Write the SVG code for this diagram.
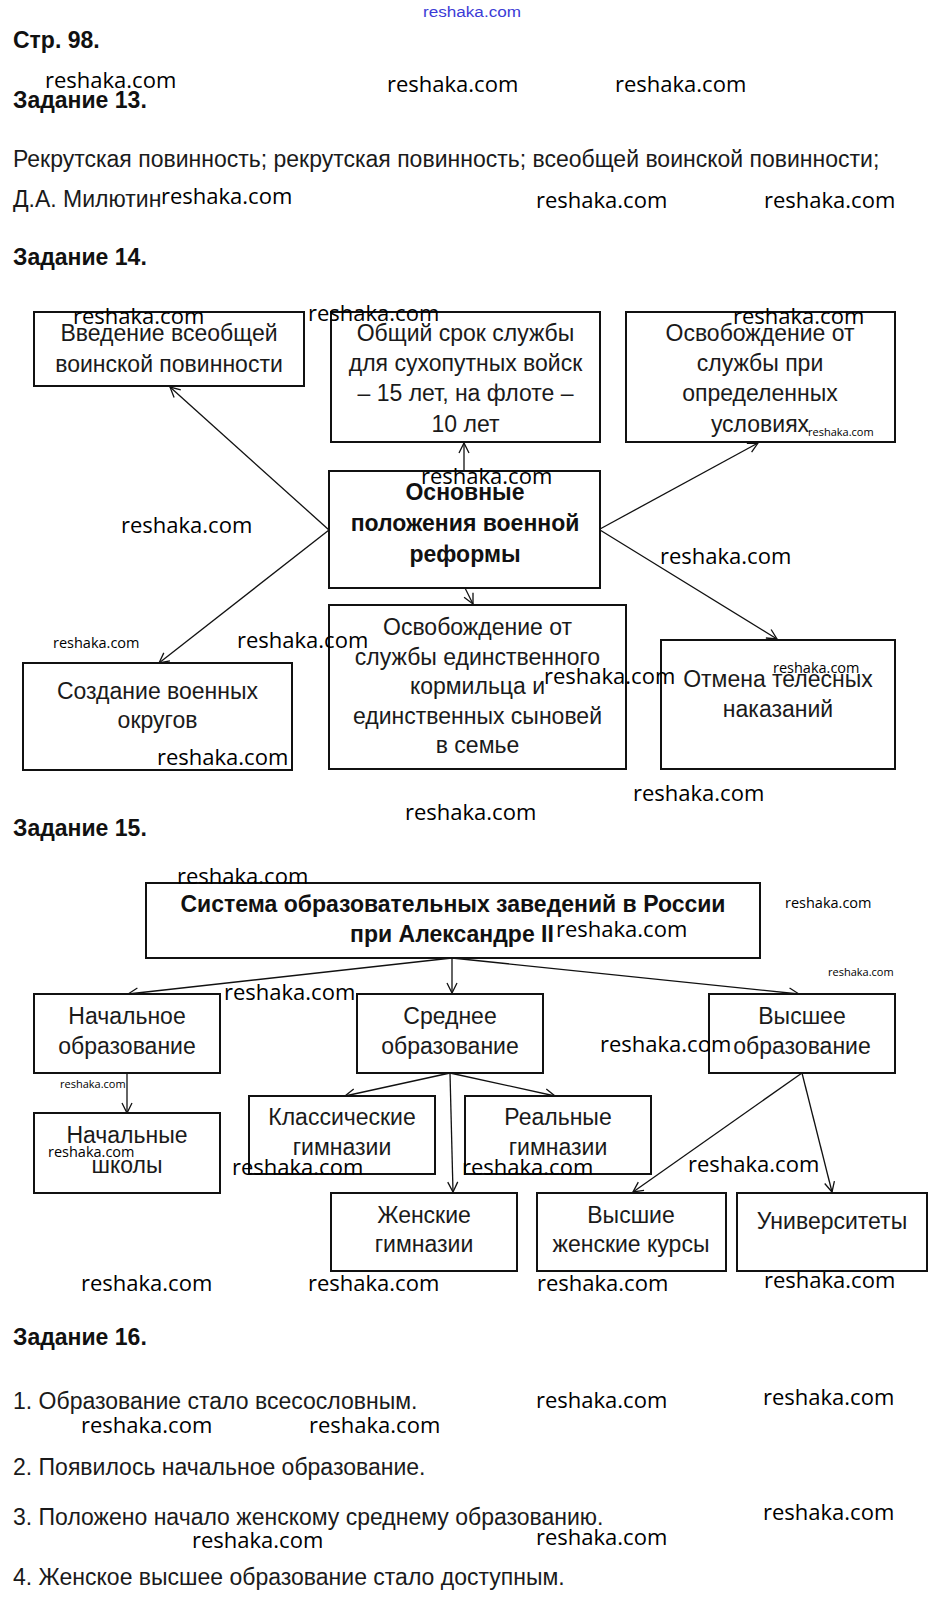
<svg xmlns="http://www.w3.org/2000/svg" width="941" height="1601" viewBox="0 0 941 1601">
<style>
.t{font-family:"Liberation Sans",Arial,sans-serif;font-size:23px;fill:#1a1a1a}
.h{font-family:"Liberation Sans",Arial,sans-serif;font-size:23px;font-weight:bold;fill:#111}
.c{text-anchor:middle}
.b{fill:#fff;stroke:#111;stroke-width:2}
.w{font-family:"Open Sans","DejaVu Sans",sans-serif;font-size:22px;fill:#000}
.ws{font-family:"Open Sans","DejaVu Sans",sans-serif;font-size:14.5px;fill:#000}
.wt{font-family:"Open Sans","DejaVu Sans",sans-serif;font-size:11px;fill:#000}
.ln{stroke:#111;stroke-width:1.3;fill:none;marker-end:url(#ah)}
</style>
<defs>
<marker id="ah" markerUnits="userSpaceOnUse" markerWidth="14" markerHeight="14" refX="11" refY="6" orient="auto" viewBox="0 0 14 12">
<path d="M1,1 L11,6 L1,11" fill="none" stroke="#111" stroke-width="1.3"/>
</marker>
</defs>
<rect width="941" height="1601" fill="#fff"/>

<text x="472" y="17" class="c" style="font-family:'Liberation Sans',Arial,sans-serif;font-size:14px;fill:#3b3bd6" textLength="98" lengthAdjust="spacingAndGlyphs">reshaka.com</text>
<text x="13" y="48" class="h">Стр. 98.</text>
<text x="13" y="108" class="h">Задание 13.</text>
<text x="13" y="167" class="t">Рекрутская повинность; рекрутская повинность; всеобщей воинской повинности;</text>
<text x="13" y="207" class="t">Д.А. Милютин</text>
<text x="13" y="265" class="h">Задание 14.</text>

<g id="connectors14">
<line class="ln" x1="329" y1="530" x2="170" y2="387"/>
<line class="ln" x1="464" y1="471" x2="464" y2="443"/>
<line class="ln" x1="600" y1="529" x2="758" y2="443"/>
<line class="ln" x1="600" y1="530" x2="777" y2="639"/>
<line class="ln" x1="329" y1="530" x2="159" y2="663"/>
<line class="ln" x1="465" y1="588" x2="473" y2="604"/>
</g>

<g id="n14a"><rect class="b" x="34" y="312" width="270" height="74"/>
<text class="t c" x="169" y="341">Введение всеобщей</text><text class="t c" x="169" y="372">воинской повинности</text></g>
<g id="n14b"><rect class="b" x="331" y="312" width="269" height="130"/>
<text class="t c" x="465.5" y="341">Общий срок службы</text><text class="t c" x="465.5" y="371">для сухопутных войск</text><text class="t c" x="465.5" y="401">– 15 лет, на флоте –</text><text class="t c" x="465.5" y="432">10 лет</text></g>
<g id="n14c"><rect class="b" x="626" y="312" width="269" height="130"/>
<text class="t c" x="760" y="341">Освобождение от</text><text class="t c" x="760" y="371">службы при</text><text class="t c" x="760" y="401">определенных</text><text class="t c" x="760" y="432">условиях</text></g>
<g id="n14d"><rect class="b" x="329" y="471" width="271" height="117"/>
<text class="h c" x="465" y="500">Основные</text><text class="h c" x="465" y="531">положения военной</text><text class="h c" x="465" y="562">реформы</text></g>
<g id="n14e"><rect class="b" x="23" y="663" width="269" height="107"/>
<text class="t c" x="157.5" y="699">Создание военных</text><text class="t c" x="157.5" y="728">округов</text></g>
<g id="n14f"><rect class="b" x="329" y="605" width="297" height="164"/>
<text class="t c" x="477.5" y="635">Освобождение от</text><text class="t c" x="477.5" y="664.5">службы единственного</text><text class="t c" x="477.5" y="694">кормильца и</text><text class="t c" x="477.5" y="723.5">единственных сыновей</text><text class="t c" x="477.5" y="753">в семье</text></g>
<g id="n14g"><rect class="b" x="661" y="640" width="234" height="129"/>
<text class="t c" x="778" y="687">Отмена телесных</text><text class="t c" x="778" y="717">наказаний</text></g>

<text x="13" y="836" class="h">Задание 15.</text>

<g id="connectors15">
<line class="ln" x1="452" y1="958" x2="128" y2="994"/>
<line class="ln" x1="452" y1="958" x2="452" y2="993"/>
<line class="ln" x1="452" y1="958" x2="799" y2="994"/>
<line class="ln" x1="127" y1="1073" x2="127" y2="1113"/>
<line class="ln" x1="450" y1="1073" x2="345" y2="1096"/>
<line class="ln" x1="450" y1="1073" x2="555" y2="1096"/>
<line class="ln" x1="450" y1="1073" x2="453" y2="1192"/>
<line class="ln" x1="802" y1="1073" x2="633" y2="1192"/>
<line class="ln" x1="802" y1="1073" x2="832" y2="1192"/>
</g>

<g id="n15title"><rect class="b" x="146" y="883" width="614" height="75"/>
<text class="h c" x="453" y="912">Система образовательных заведений в России</text><text class="h c" x="452" y="942">при Александре II</text></g>
<g id="n15prim"><rect class="b" x="34" y="994" width="186" height="79"/>
<text class="t c" x="127" y="1024">Начальное</text><text class="t c" x="127" y="1054">образование</text></g>
<g id="n15sec"><rect class="b" x="357" y="994" width="186" height="79"/>
<text class="t c" x="450" y="1024">Среднее</text><text class="t c" x="450" y="1054">образование</text></g>
<g id="n15high"><rect class="b" x="709" y="994" width="186" height="79"/>
<text class="t c" x="802" y="1024">Высшее</text><text class="t c" x="802" y="1054">образование</text></g>
<g id="n15school"><rect class="b" x="34" y="1113" width="186" height="80"/>
<text class="t c" x="127" y="1143">Начальные</text><text class="t c" x="127" y="1173">школы</text></g>
<g id="n15class"><rect class="b" x="249" y="1096" width="186" height="78"/>
<text class="t c" x="342" y="1125">Классические</text><text class="t c" x="342" y="1155">гимназии</text></g>
<g id="n15real"><rect class="b" x="465" y="1096" width="186" height="78"/>
<text class="t c" x="558" y="1125">Реальные</text><text class="t c" x="558" y="1155">гимназии</text></g>
<g id="n15fem"><rect class="b" x="331" y="1193" width="186" height="78"/>
<text class="t c" x="424" y="1223">Женские</text><text class="t c" x="424" y="1252">гимназии</text></g>
<g id="n15courses"><rect class="b" x="537" y="1193" width="189" height="78"/>
<text class="t c" x="631" y="1223">Высшие</text><text class="t c" x="631" y="1252">женские курсы</text></g>
<g id="n15univ"><rect class="b" x="737" y="1193" width="190" height="78"/>
<text class="t c" x="832" y="1229">Университеты</text></g>

<text x="13" y="1345" class="h">Задание 16.</text>
<text x="13" y="1409" class="t">1. Образование стало всесословным.</text>
<text x="13" y="1475" class="t">2. Появилось начальное образование.</text>
<text x="13" y="1525" class="t">3. Положено начало женскому среднему образованию.</text>
<text x="13" y="1585" class="t">4. Женское высшее образование стало доступным.</text>

<g id="watermarks">
<text class="w" x="45" y="88">reshaka.com</text>
<text class="w" x="387" y="92">reshaka.com</text>
<text class="w" x="615" y="92">reshaka.com</text>
<text class="w" x="161" y="204">reshaka.com</text>
<text class="w" x="536" y="208">reshaka.com</text>
<text class="w" x="764" y="208">reshaka.com</text>
<text class="w" x="73" y="324">reshaka.com</text>
<text class="w" x="308" y="321">reshaka.com</text>
<text class="w" x="733" y="324">reshaka.com</text>
<text class="wt" x="808" y="436">reshaka.com</text>
<text class="w" x="421" y="484">reshaka.com</text>
<text class="w" x="121" y="533">reshaka.com</text>
<text class="w" x="660" y="564">reshaka.com</text>
<text class="ws" x="53" y="648">reshaka.com</text>
<text class="w" x="237" y="648">reshaka.com</text>
<text class="ws" x="773" y="673">reshaka.com</text>
<text class="w" x="544" y="684">reshaka.com</text>
<text class="w" x="157" y="765">reshaka.com</text>
<text class="w" x="633" y="801">reshaka.com</text>
<text class="w" x="405" y="820">reshaka.com</text>
<text class="w" x="177" y="884">reshaka.com</text>
<text class="ws" x="785" y="908">reshaka.com</text>
<text class="w" x="556" y="937">reshaka.com</text>
<text class="wt" x="828" y="976">reshaka.com</text>
<text class="w" x="224" y="1000">reshaka.com</text>
<text class="w" x="600" y="1052">reshaka.com</text>
<text class="wt" x="60" y="1088">reshaka.com</text>
<text class="ws" x="48" y="1157">reshaka.com</text>
<text class="w" x="232" y="1175">reshaka.com</text>
<text class="w" x="462" y="1175">reshaka.com</text>
<text class="w" x="688" y="1172">reshaka.com</text>
<text class="w" x="81" y="1291">reshaka.com</text>
<text class="w" x="308" y="1291">reshaka.com</text>
<text class="w" x="537" y="1291">reshaka.com</text>
<text class="w" x="764" y="1288">reshaka.com</text>
<text class="w" x="536" y="1408">reshaka.com</text>
<text class="w" x="763" y="1405">reshaka.com</text>
<text class="w" x="81" y="1433">reshaka.com</text>
<text class="w" x="309" y="1433">reshaka.com</text>
<text class="w" x="763" y="1520">reshaka.com</text>
<text class="w" x="192" y="1548">reshaka.com</text>
<text class="w" x="536" y="1545">reshaka.com</text>
</g>
</svg>
